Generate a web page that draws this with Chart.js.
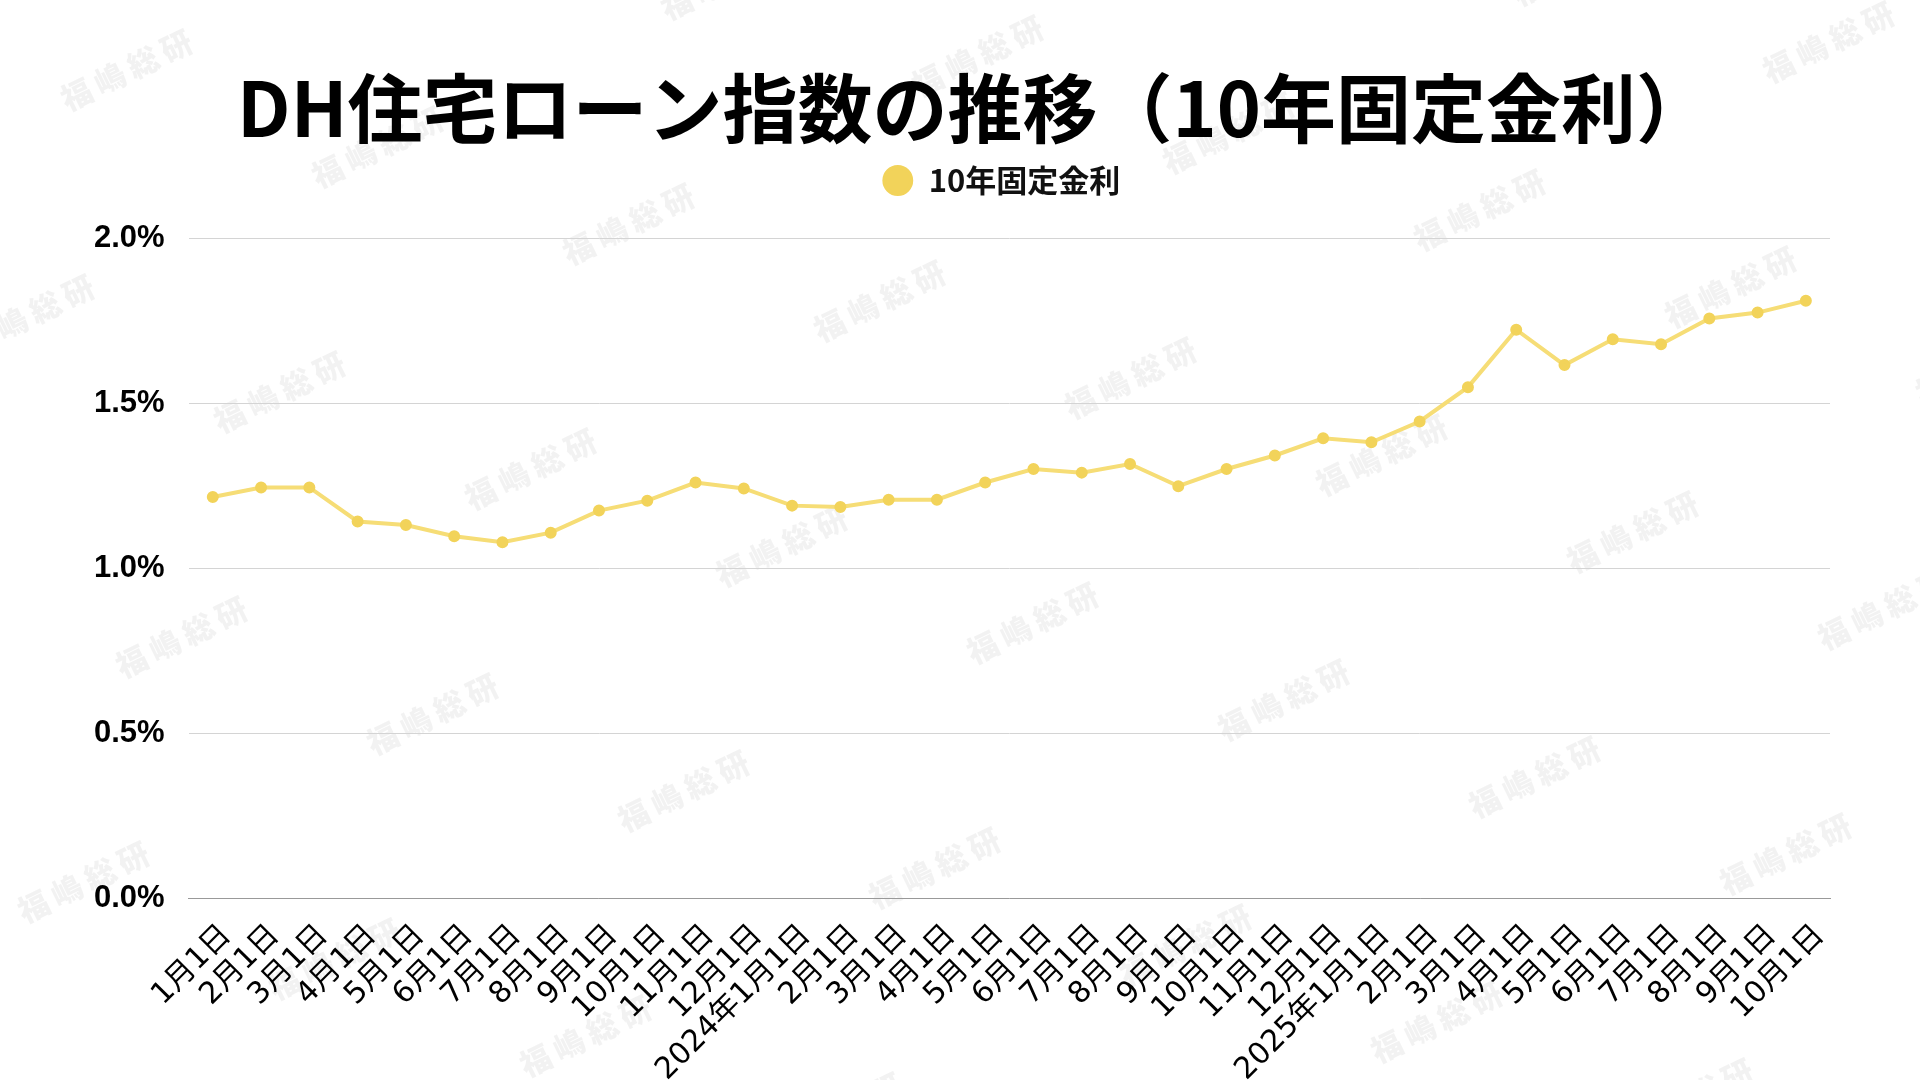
<!DOCTYPE html>
<html>
<head>
<meta charset="utf-8">
<script src="https://cdn.jsdelivr.net/npm/chart.js@4.4.1/dist/chart.umd.min.js"></script>
<style>
  html, body { margin: 0; padding: 0; background: #fff; }
  #wrap { width: 1920px; height: 1080px; }
</style>
</head>
<body>
<div id="wrap"><canvas id="myChart" width="1920" height="1080"></canvas></div>
<script>
// month labels, 2023/1 .. 2025/10
const labels = [
  "1月1日", "2月1日", "3月1日", "4月1日", "5月1日", "6月1日",
  "7月1日", "8月1日", "9月1日", "10月1日", "11月1日", "12月1日",
  "2024年1月1日", "2月1日", "3月1日", "4月1日", "5月1日", "6月1日",
  "7月1日", "8月1日", "9月1日", "10月1日", "11月1日", "12月1日",
  "2025年1月1日", "2月1日", "3月1日", "4月1日", "5月1日", "6月1日",
  "7月1日", "8月1日", "9月1日", "10月1日"
];

// 10年固定金利 (%)
const fixed10 = [
  1.215, 1.244, 1.244, 1.141, 1.130, 1.096,
  1.078, 1.107, 1.174, 1.204, 1.259, 1.241,
  1.189, 1.185, 1.207, 1.207, 1.259, 1.300,
  1.289, 1.315, 1.248, 1.300, 1.341, 1.393,
  1.381, 1.444, 1.548, 1.722, 1.615, 1.693,
  1.678, 1.756, 1.774, 1.810
];

const yTicks = [0, 0.5, 1.0, 1.5, 2.0];

const titleText = "DH住宅ローン指数の推移（10年固定金利）";
const seriesName = "10年固定金利";
const watermarkText = "福嶋総研";

const cjk = '"Noto Sans CJK JP", "Noto Sans", sans-serif';

// faint tiled watermark behind the chart
const watermark = {
  id: "watermark",
  beforeDraw(chart) {
    const ctx = chart.ctx;
    ctx.save();
    ctx.fillStyle = "rgba(0,0,0,0.05)";
    ctx.font = "900 31px " + cjk;
    ctx.letterSpacing = "6px";
    ctx.textAlign = "center";
    ctx.textBaseline = "middle";
    for (let n = -8; n <= 10; n++) {
      for (let m = -4; m <= 6; m++) {
        const x = 882 + n * 251 - m * 98;
        const y = 300 + n * 77 + m * 245;
        if (x < -120 || x > 2040 || y < -60 || y > 1140) continue;
        ctx.save();
        ctx.translate(x, y);
        ctx.rotate(-26 * Math.PI / 180);
        ctx.fillText(watermarkText, 0, 0);
        ctx.restore();
      }
    }
    ctx.restore();
  },
};

// extra room under the legend
const legendGap = {
  id: "legendGap",
  beforeInit(chart) {
    const fit = chart.legend.fit;
    chart.legend.fit = function () {
      fit.bind(chart.legend)();
      this.height += 32;
    };
  },
  // title centred on the page, legend centred on the plot area
  afterLayout(chart) {
    const t = chart.titleBlock;
    if (t) { t.left += 24; t.right += 24; }
    const lg = chart.legend;
    const a = chart.chartArea;
    const d = (a.left + a.right) / 2 - (lg.left + lg.right) / 2 - 8;
    lg.left += d; lg.right += d;
  },
};

const config = {
  type: "line",
  data: {
    labels: labels,
    datasets: [
      {
        label: seriesName,
        data: fixed10,
        borderColor: "#F6DD76",
        backgroundColor: "#F5D65C",
        pointBackgroundColor: "#F2D35A",
        pointBorderColor: "#F2D35A",
        borderWidth: 4,
        pointRadius: 4,
        tension: 0,
      },
    ],
  },
  options: {
    responsive: false,
    animation: false,
    layout: { padding: { left: 70, right: 90, top: 63, bottom: 0 } },
    plugins: {
      title: {
        display: true,
        text: titleText,
        color: "#000",
        font: { family: cjk, size: 75, weight: "bold" },
        padding: { top: 0, bottom: 0 },
      },
      legend: {
        display: true,
        labels: {
          usePointStyle: true,
          pointStyle: "circle",
          boxHeight: 19,
          color: "#111",
          font: { family: cjk, size: 31, weight: "bold" },
          padding: 12,
        },
      },
      tooltip: { enabled: false },
    },
    scales: {
      x: {
        offset: true,
        afterFit: (scale) => { scale.height = 182; },
        grid: { display: false, drawTicks: false },
        border: { color: "#999", width: 1 },
        ticks: {
          autoSkip: false,
          minRotation: 45,
          maxRotation: 45,
          padding: 20,
          labelOffset: 14,
          color: "#000",
          font: { family: '"DejaVu Sans", "Noto Sans CJK JP", sans-serif', size: 30 },
        },
      },
      y: {
        min: yTicks[0],
        max: yTicks[yTicks.length - 1],
        afterBuildTicks: (axis) => {
          axis.ticks = yTicks.map((v) => ({ value: v }));
        },
        grid: { color: "#d4d4d4", lineWidth: 1, drawTicks: false },
        border: { display: false },
        ticks: {
          padding: 24,
          color: "#000",
          font: { family: '"Liberation Sans", Arial, sans-serif', size: 31, weight: "bold" },
          callback: (v) => Number(v).toFixed(1) + "%",
        },
      },
    },
  },
  plugins: [watermark, legendGap],
};

const myChart = new Chart(document.getElementById("myChart"), config);
</script>
</body>
</html>
